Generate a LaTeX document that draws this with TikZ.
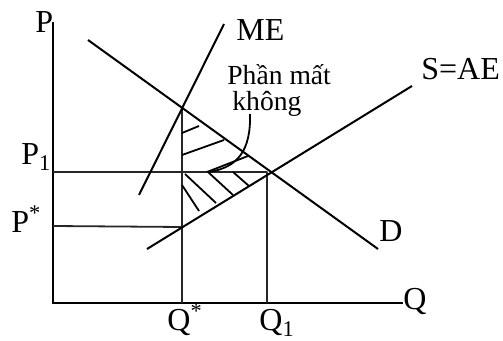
\documentclass[tikz,border=0pt]{standalone}
\usepackage{fontspec}
\setmainfont{Liberation Serif}
\usetikzlibrary{positioning,calc}
\tikzset{
 curve/.style={draw=black,line width=1pt},
 guide/.style={draw=black!85,line width=0.9pt},
 axis/.style={draw=black,line width=1.1pt},
 hatch/.style={draw=black,line width=0.9pt},
 lbl/.style={anchor=base west,inner sep=0pt,font=\fontsize{16}{16}\selectfont},
 note/.style={anchor=base west,inner sep=0pt,font=\fontsize{13.8}{13.8}\selectfont}
}

\begin{document}
\begin{tikzpicture}[x=0.5pt,y=-0.5pt]
\useasboundingbox (0,0) rectangle (503,341);
% key points
\coordinate (o) at (53,303);
\coordinate (ptop) at (53,22);
\coordinate (qend) at (403,303);
\coordinate (p1) at (53,172);
\coordinate (ps) at (53,226);
\coordinate (qs) at (182,303);
\coordinate (q1) at (267,303);
\coordinate (top) at (182,108);
\coordinate (eq) at (267,172);
\coordinate (low) at (182,227);
% curves
\coordinate (d0) at (88,40);
\coordinate (d1) at (378,249);
\coordinate (s0) at (147,249);
\coordinate (s1) at (412,86);
\coordinate (m0) at (139,195);
\coordinate (m1) at (224,24);
\draw[axis] (ptop)--(o)--(qend);
\draw[guide] (p1)--(eq) (ps)--(low) (qs)--(top) (q1)--(eq);
\draw[curve] (d0)--(d1);
\draw[curve] (s0)--(s1);
\draw[curve] (m0)--(m1);
% hatching
\foreach \a/\b in {{182,133}/{199,126},{182,155}/{224,140},{207,172}/{248,156},
  {182,185}/{199,211},{185,174}/{216,203},{208,172}/{233,195},{233,172}/{249,186}}
  \draw[hatch] (\a)--(\b);
% labels
\node[lbl] (lp) at (35,33) {P};
\node[lbl] (lme) at (236,41) {ME};
\node[lbl] (ls) at (421,80) {S=AE};
\node[lbl] (ld) at (379,242) {D};
\node[lbl] (lq) at (403,310) {Q};
\node[lbl] (lqs) at (167,331) {Q\textsuperscript{*}};
\node[lbl] (lq1) at (259,331) {Q\textsubscript{1}};
\node[lbl] (lp1) at (21,165) {P\textsubscript{1}};
\node[lbl] (lps) at (11,233) {P\textsuperscript{*}};
\node[note] (n1) at (227,85) {Phần mất};
\node[note] (n2) at (232,111) {không};
\draw[hatch] (250,114) .. controls (251,150) and (238,168) .. (208,172);
\end{tikzpicture}
\end{document}
